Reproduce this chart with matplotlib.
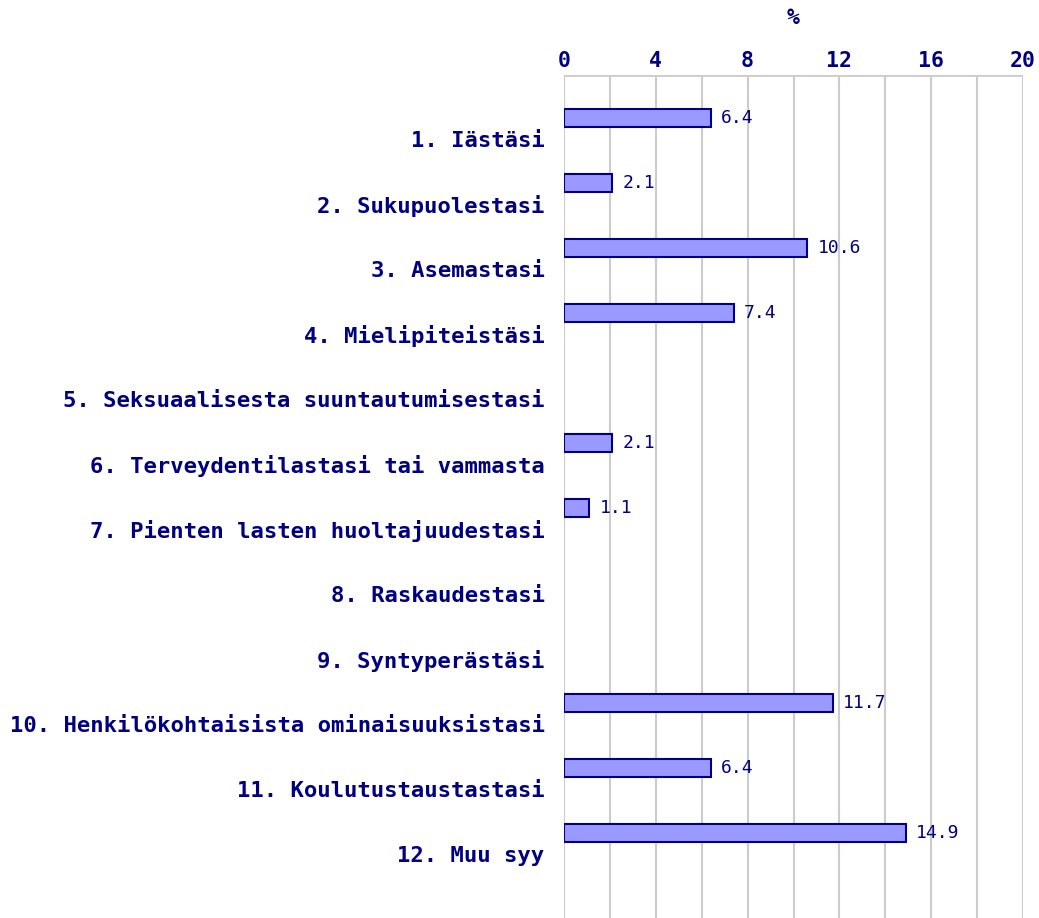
import numpy as np
import matplotlib
matplotlib.use("Agg")
import matplotlib.pyplot as plt

# data
categories = [
    "1. Iästäsi",
    "2. Sukupuolestasi",
    "3. Asemastasi",
    "4. Mielipiteistäsi",
    "5. Seksuaalisesta suuntautumisestasi",
    "6. Terveydentilastasi tai vammasta",
    "7. Pienten lasten huoltajuudestasi",
    "8. Raskaudestasi",
    "9. Syntyperästäsi",
    "10. Henkilökohtaisista ominaisuuksistasi",
    "11. Koulutustaustastasi",
    "12. Muu syy",
]
values = [6.4, 2.1, 10.6, 7.4, 0.0, 2.1, 1.1, 0.0, 0.0, 11.7, 6.4, 14.9]
xticks = [0, 4, 8, 12, 16, 20]

navy = "#000080"
bar_fill = "#9999ff"
grid_col = "#cccccc"

W, H = 1039, 918
fig = plt.figure(figsize=(W / 100, H / 100), dpi=100)
ax = fig.add_axes([564 / W, 0, (1023 - 564) / W, 1 - 75 / H])

y = np.arange(len(categories))
bar_off = 0.32
bar_h = 0.28

# grid
for gx in range(0, 21, 2):
    ax.axvline(gx, color=grid_col, lw=1.5, zorder=0)
ax.axhline(-0.985, color=grid_col, lw=2, zorder=0)

vals = np.array(values)
mask = vals > 0
ax.barh(y[mask] - bar_off, vals[mask], height=bar_h, color=bar_fill,
        edgecolor=navy, linewidth=1.5, zorder=2)
for yi, v in zip(y[mask], vals[mask]):
    ax.text(v + 0.45, yi - bar_off, f"{v:.1f}", va="center", ha="left",
            color=navy, fontsize=13, family="DejaVu Sans Mono", zorder=3)

ax.set_xlim(0, 20)
ax.set_ylim(11.985, -0.985)
ax.set_yticks(y)
ax.set_yticklabels(categories, fontsize=16, fontweight="bold",
                   family="DejaVu Sans Mono", color=navy)
ax.xaxis.tick_top()
ax.set_xticks(xticks)
ax.set_xticklabels([str(t) for t in xticks], fontsize=15.5, fontweight="bold",
                   family="DejaVu Sans Mono", color=navy)
ax.tick_params(axis="both", length=0)
ax.tick_params(axis="x", pad=3)
ax.tick_params(axis="y", pad=14)
for s in ax.spines.values():
    s.set_visible(False)

fig.text((564 + 1023) / 2 / W, 1 - 18 / H, "%", ha="center", va="center",
         fontsize=15.5, fontweight="bold", family="DejaVu Sans Mono", color=navy)

fig.savefig("out.png", dpi=100)
